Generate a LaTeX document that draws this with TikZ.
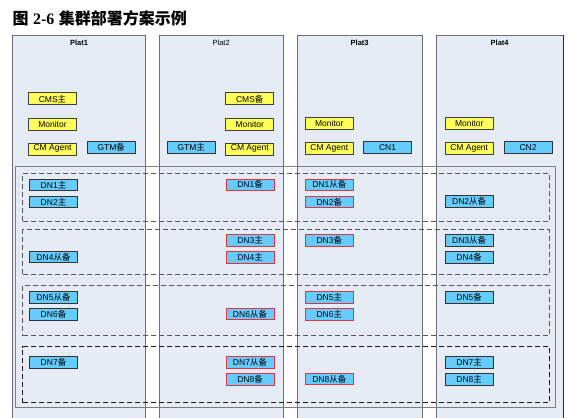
\documentclass[tikz,border=0pt]{standalone}
\usepackage{fontspec}
\setmainfont{Liberation Sans}
\newfontfamily\cjk{Noto Sans CJK SC}
\newfontfamily\titleserif{Liberation Serif}
\usetikzlibrary{positioning}
\newcommand{\zh}[1]{{\cjk #1}}
\definecolor{platbg}{HTML}{E6ECF6}
\definecolor{platline}{HTML}{6E6E6E}
\definecolor{boxyellow}{HTML}{FFFF59}
\definecolor{boxblue}{HTML}{66CCFF}
\definecolor{boxred}{HTML}{E8333F}
\tikzset {
    style P/.style={
        fill=platbg,
        draw=platline,
        line width=1pt,
        rectangle, % one column per host
        anchor=north west,
        inner sep=0pt,
    },
    style L/.style={
        inner sep=0pt,
        font=\bfseries\fontsize{7.5}{8}\selectfont,
    },
    style Y/.style={
        fill=boxyellow,
        draw=black!75,
        line width=0.8pt,
        rectangle,
        minimum width=48pt,
        minimum height=12pt,
        inner sep=0pt,
        font=\fontsize{8.5}{9}\selectfont,
    },
    style N/.style={
        fill=boxblue,
        draw=black!80,
        line width=0.8pt,
        rectangle,
        minimum width=48pt,
        minimum height=11.5pt,
        inner sep=0pt,
        font=\fontsize{8.5}{9}\selectfont,
    },
    style R/.style={
        style N,
        draw=boxred,
    },
    style G/.style={
        draw=black!65,
        line width=0.9pt,
        dash pattern=on 5pt off 3pt,
        rectangle, % dashed group of shards
        anchor=north west,
        inner sep=0pt,
        minimum width=526.4pt,
    },
}
\begin{document}
\begin{tikzpicture}[x=1pt, y=-1pt]
    \useasboundingbox (0,0) rectangle (571,418);

    % title
    \node[anchor=base west, inner sep=0pt, font=\bfseries\fontsize{16}{19}\selectfont] (title) at (12.5,24.5)
        {\zh{图} {\titleserif 2-6} \zh{集群部署方案示例}};

    % hosts
    \node[style P, minimum width=132.4pt, minimum height=400pt] (plat1) at (12.3,34.5) {};
    \node[style P, minimum width=124pt, minimum height=400pt] (plat2) at (158.7,34.5) {};
    \node[style P, minimum width=125pt, minimum height=400pt] (plat3) at (296.7,34.5) {};
    \node[style P, minimum width=127pt, minimum height=400pt] (plat4) at (435.7,34.5) {};
    \draw[line width=1.4pt, black!85] (plat4.north east) -- (plat4.south east);

    \node[style L] (name1) [below=5.5pt of plat1.north] {Plat1};
    \node[style L, font=\fontsize{7.5}{8}\selectfont] (name2) [below=5.5pt of plat2.north] {Plat2};
    \node[style L] (name3) [below=5.5pt of plat3.north] {Plat3};
    \node[style L] (name4) [below=5.5pt of plat4.north] {Plat4};

    % cluster frame and groups
    \node[draw=black!50, line width=1pt, anchor=north west, inner sep=0pt,
        minimum width=540.3pt, minimum height=241.3pt] (cluster) at (15,165.7) {};
    \node[style G, minimum height=48.3pt] (grp1) at (22.3,172.7) {};
    \node[style G, minimum height=44.4pt] (grp2) at (22.3,229.3) {};
    \node[style G, minimum height=50.6pt] (grp3) at (22.3,284.7) {};
    \node[style G, draw=black!90, minimum height=56pt] (grp4) at (22.3,346.3) {};

    % CM and GTM
    \node[style Y] (cms1) at (52.5,98.8) {CMS\zh{主}};
    \node[style Y] (mon1) [below=12.5pt of cms1] {Monitor};
    \node[style Y] (cma1) [below=12pt of mon1] {CM Agent};
    \node[style N, minimum height=12pt] (gtm1) at (111.3,147.3) {GTM\zh{备}};

    \node[style N, minimum height=12pt] (gtm2) at (191.3,147.3) {GTM\zh{主}};
    \node[style Y] (cms2) at (249.8,98.8) {CMS\zh{备}};
    \node[style Y] (mon2) [below=12.5pt of cms2] {Monitor};
    \node[style Y] (cma2) [below=12pt of mon2] {CM Agent};

    \node[style Y] (mon3) at (329.3,123.3) {Monitor};
    \node[style Y] (cma3) [below=12pt of mon3] {CM Agent};
    \node[style N, minimum height=12pt] (cn1) at (387.5,147.3) {CN1};

    \node[style Y] (mon4) at (469.2,123.3) {Monitor};
    \node[style Y] (cma4) [below=12pt of mon4] {CM Agent};
    \node[style N, minimum height=12pt] (cn2) at (528,147.3) {CN2};

    % group 1
    \node[style N] (dn1m) at (53.5,184.7) {DN1\zh{主}};
    \node[style N] (dn2m) [below=5pt of dn1m] {DN2\zh{主}};
    \node[style R] (dn1b) at (250,184.7) {DN1\zh{备}};
    \node[style R] (dn1s) at (329.3,184.7) {DN1\zh{从备}};
    \node[style R] (dn2b) [below=5pt of dn1s] {DN2\zh{备}};
    \node[style N] (dn2s) at (469.2,201.3) {DN2\zh{从备}};

    % group 2
    \node[style N] (dn4s) at (53.5,257) {DN4\zh{从备}};
    \node[style R] (dn3m) at (250,240.3) {DN3\zh{主}};
    \node[style R] (dn4m) [below=5pt of dn3m] {DN4\zh{主}};
    \node[style R] (dn3b) at (329.3,240.3) {DN3\zh{备}};
    \node[style N] (dn3s) at (469.2,240.3) {DN3\zh{从备}};
    \node[style N] (dn4b) [below=5pt of dn3s] {DN4\zh{备}};

    % group 3
    \node[style N] (dn5s) at (53.5,297.2) {DN5\zh{从备}};
    \node[style N] (dn6b) [below=5pt of dn5s] {DN6\zh{备}};
    \node[style R] (dn6s) at (250,314) {DN6\zh{从备}};
    \node[style R] (dn5m) at (329.3,297.2) {DN5\zh{主}};
    \node[style R] (dn6m) [below=5pt of dn5m] {DN6\zh{主}};
    \node[style N] (dn5b) at (469.2,297.2) {DN5\zh{备}};

    % group 4
    \node[style N] (dn7b) at (53.5,362.3) {DN7\zh{备}};
    \node[style R] (dn7s) at (250,362.3) {DN7\zh{从备}};
    \node[style R] (dn8b) [below=5pt of dn7s] {DN8\zh{备}};
    \node[style R] (dn8s) at (329.3,379) {DN8\zh{从备}};
    \node[style N] (dn7m) at (469.2,362.3) {DN7\zh{主}};
    \node[style N] (dn8m) [below=5pt of dn7m] {DN8\zh{主}};

\end{tikzpicture}
\end{document}
